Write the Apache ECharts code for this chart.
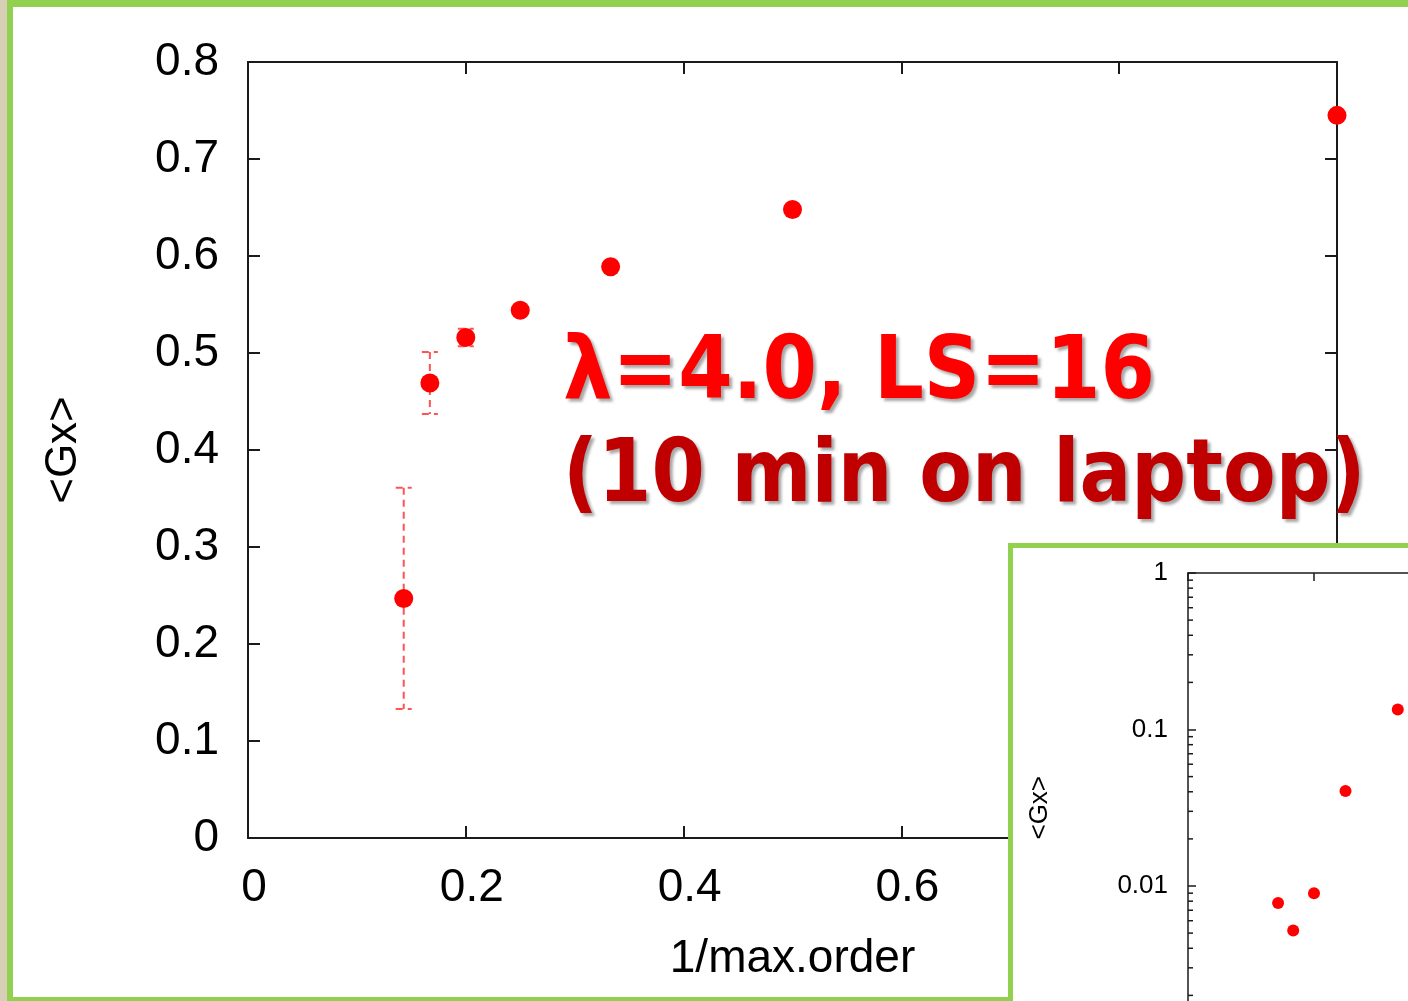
<!DOCTYPE html>
<html>
<head>
<meta charset="utf-8">
<title>&lt;Gx&gt; vs 1/max.order</title>
<script src="https://cdn.jsdelivr.net/npm/echarts@6/dist/echarts.min.js"></script>
<style>
  html, body { margin: 0; padding: 0; background: #fff; }
  #chart { width: 1408px; height: 1001px; }
</style>
</head>
<body>
<div id="chart"></div>
<script>
// main plot, lambda=4.0, LS=16
var invOrder = [0.143, 0.167, 0.2, 0.25, 0.333, 0.5, 1.0];
var gxMean   = [0.247, 0.469, 0.516, 0.544, 0.589, 0.648, 0.745];
var gxErr    = [0.114, 0.032, 0.009, 0, 0, 0, 0];

// inset (log y), only the visible part
var insetX  = [0.143, 0.167, 0.2, 0.25, 0.333];
var insetGx = [0.0078, 0.0052, 0.0090, 0.0405, 0.134];
// minor tick values of the log axis
var insetMinor = [0.002, 0.003, 0.004, 0.005, 0.006, 0.007, 0.008, 0.009,
                  0.02, 0.03, 0.04, 0.05, 0.06, 0.07, 0.08, 0.09,
                  0.2, 0.3, 0.4, 0.5, 0.6, 0.7, 0.8, 0.9];

var noteLines = ['λ=4.0, LS=16', '(10 min on laptop)'];

var FONT = 'Liberation Sans';
var GREEN = '#92d050';
var AXIS = '#1a1a1a';

var mainPts = invOrder.map(function (x, i) { return [x, gxMean[i], gxErr[i]]; });
var insetPts = insetX.map(function (x, i) { return [x, insetGx[i]]; });

function frameAxis(extra) {
  var a = {
    axisLine: { show: true, onZero: false, lineStyle: { color: AXIS, width: 2 } },
    axisTick: { show: true, inside: true, length: 12, lineStyle: { color: AXIS, width: 2 } },
    splitLine: { show: false },
    axisLabel: { show: false }
  };
  for (var k in extra) a[k] = extra[k];
  return a;
}

var chart = echarts.init(document.getElementById('chart'));

var option = {
  backgroundColor: '#fff',
  animation: false,
  grid: [
    { left: 248, top: 62, width: 1089, height: 776, outerBoundsMode: 'none' },
    { left: 1188, top: 573, width: 630, height: 469.5, outerBoundsMode: 'none' }
  ],
  xAxis: [
    frameAxis({
      type: 'value', gridIndex: 0, position: 'bottom', min: 0, max: 1, interval: 0.2,
      axisLabel: { show: true, color: '#000', fontFamily: FONT, fontSize: 46, margin: 27,
                   padding: [0, 0, 0, 12] },
      name: '1/max.order', nameLocation: 'middle', nameGap: 98,
      nameTextStyle: { color: '#000', fontFamily: FONT, fontSize: 46 }
    }),
    frameAxis({ type: 'value', gridIndex: 0, position: 'top', min: 0, max: 1, interval: 0.2 }),
    frameAxis({ type: 'value', gridIndex: 1, position: 'top', min: 0, max: 1, interval: 0.2, z: 11,
                axisTick: { show: true, inside: true, length: 8, lineStyle: { color: AXIS, width: 1.5 } },
                axisLine: { show: true, onZero: false, lineStyle: { color: AXIS, width: 1.5 } } })
  ],
  yAxis: [
    frameAxis({
      type: 'value', gridIndex: 0, position: 'left', min: 0, max: 0.8, interval: 0.1,
      axisLabel: { show: true, color: '#000', fontFamily: FONT, fontSize: 46, margin: 29,
                   padding: [6, 0, 0, 0] },
      name: '<Gx>', nameLocation: 'middle', nameGap: 162, nameRotate: 90,
      nameTextStyle: { color: '#000', fontFamily: FONT, fontSize: 44 }
    }),
    frameAxis({ type: 'value', gridIndex: 0, position: 'right', min: 0, max: 0.8, interval: 0.1 }),
    frameAxis({
      type: 'log', gridIndex: 1, position: 'left', min: 0.001, max: 1, logBase: 10, z: 11,
      axisLine: { show: true, onZero: false, lineStyle: { color: AXIS, width: 1.5 } },
      axisTick: { show: true, inside: true, length: 8, lineStyle: { color: AXIS, width: 1.5 } },
      axisLabel: { show: true, color: '#000', fontFamily: FONT, fontSize: 26, margin: 20,
                   padding: [3, 0, 0, 0],
                   formatter: function (v) { return String(Number(v.toPrecision(1))); } },
      name: '<Gx>', nameLocation: 'middle', nameGap: 135, nameRotate: 90,
      nameTextStyle: { color: '#000', fontFamily: FONT, fontSize: 26 }
    })
  ],
  series: [
    {
      type: 'custom', xAxisIndex: 0, yAxisIndex: 0, data: mainPts, z: 3,
      renderItem: function (params, api) {
        var e = api.value(2);
        if (!e) return null;
        var x = api.value(0), y = api.value(1);
        var top = api.coord([x, y + e]);
        var bot = api.coord([x, y - e]);
        var st = { stroke: 'rgba(255,40,40,0.8)', lineWidth: 2, lineDash: [7, 5] };
        return {
          type: 'group',
          children: [
            { type: 'line', shape: { x1: top[0], y1: top[1], x2: bot[0], y2: bot[1] }, style: st },
            { type: 'line', shape: { x1: top[0] - 8, y1: top[1], x2: top[0] + 8, y2: top[1] }, style: st },
            { type: 'line', shape: { x1: bot[0] - 8, y1: bot[1], x2: bot[0] + 8, y2: bot[1] }, style: st }
          ]
        };
      }
    },
    {
      type: 'scatter', xAxisIndex: 0, yAxisIndex: 0, z: 4,
      data: mainPts.map(function (p) { return [p[0], p[1]]; }),
      symbol: 'circle', symbolSize: 19, itemStyle: { color: '#ff0000', opacity: 1 }
    },
    {
      type: 'custom', xAxisIndex: 2, yAxisIndex: 2, z: 12,
      data: insetMinor.map(function (v) { return [0, v]; }),
      renderItem: function (params, api) {
        var p = api.coord([0, api.value(1)]);
        return { type: 'line', shape: { x1: p[0], y1: p[1], x2: p[0] + 5, y2: p[1] },
                 style: { stroke: AXIS, lineWidth: 1.5 } };
      }
    },
    {
      type: 'scatter', xAxisIndex: 2, yAxisIndex: 2, z: 12,
      data: insetPts, symbol: 'circle', symbolSize: 12, itemStyle: { color: '#ff0000', opacity: 1 }
    }
  ],
  graphic: {
    elements: [
      // slide frame
      { type: 'rect', z: 1, shape: { x: 0, y: 0, width: 7, height: 1001 }, style: { fill: '#d8d0b6' } },
      { type: 'rect', z: 1, shape: { x: 7, y: 0, width: 6, height: 1001 }, style: { fill: GREEN } },
      { type: 'rect', z: 1, shape: { x: 7, y: 0, width: 1401, height: 7 }, style: { fill: GREEN } },
      { type: 'rect', z: 1, shape: { x: 7, y: 997, width: 1001, height: 4 }, style: { fill: GREEN } },
      // inset box
      { type: 'rect', z: 10, shape: { x: 1010.5, y: 545.5, width: 420, height: 480 },
        style: { fill: '#fff', stroke: GREEN, lineWidth: 5 } },
      // annotation
      { type: 'text', z: 20, x: 563, y: 375, scaleX: 0.89,
        style: { text: noteLines[0], fill: '#ff0000', fontFamily: 'DejaVu Sans', fontWeight: 'bold',
                 fontSize: 88, verticalAlign: 'middle',
                 textShadowColor: 'rgba(0,0,0,0.35)', textShadowBlur: 3,
                 textShadowOffsetX: 3, textShadowOffsetY: 3 } },
      { type: 'text', z: 20, x: 563, y: 478, scaleX: 0.872,
        style: { text: noteLines[1], fill: '#c00000', fontFamily: 'DejaVu Sans', fontWeight: 'bold',
                 fontSize: 88, verticalAlign: 'middle',
                 textShadowColor: 'rgba(0,0,0,0.35)', textShadowBlur: 3,
                 textShadowOffsetX: 3, textShadowOffsetY: 3 } }
    ]
  }
};

chart.setOption(option);
</script>
</body>
</html>
